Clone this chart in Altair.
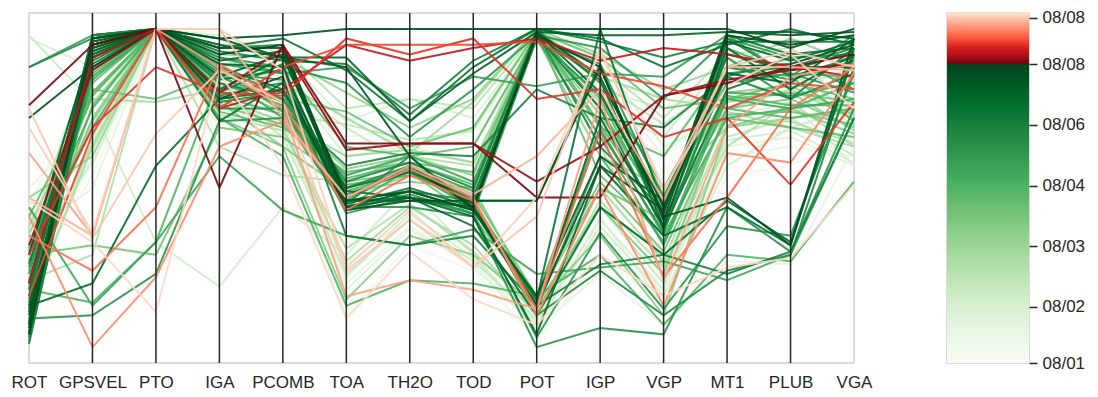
import altair as alt
import pandas as pd
import numpy as np

axes = ["ROT", "GPSVEL", "PTO", "IGA", "PCOMB", "TOA", "TH2O", "TOD",
        "POT", "IGP", "VGP", "MT1", "PLUB", "VGA"]

# position of each record on the colour bar (0 = 08/01 ... 1 = latest 08/08)
green_t = [0.84, 0.80, 0.77, 0.74, 0.82, 0.70, 0.66, 0.62, 0.58, 0.55, 0.79, 0.72,
           0.68, 0.64, 0.48, 0.45, 0.40, 0.52,
           0.83, 0.78, 0.73, 0.60, 0.35, 0.25, 0.15, 0.57, 0.67, 0.44, 0.31,
           0.30, 0.22, 0.12, 0.38, 0.50, 0.08, 0.18, 0.55, 0.04, 0.10,
           0.62, 0.75, 0.50, 0.42, 0.28, 0.65, 0.20, 0.35, 0.80, 0.47, 0.14, 0.06,
           0.76, 0.71, 0.63, 0.59, 0.54, 0.49, 0.43, 0.37, 0.33, 0.27, 0.24, 0.17,
           0.69, 0.61, 0.09, 0.02]

green_vals = [
    [4, 97, 100, 92, 95, 47, 57, 44, 98, 88, 40, 98, 95, 98],
    [7, 94, 100, 85, 92, 46, 49, 43, 99, 85, 44, 88, 89, 95],
    [13, 92, 100, 89, 88, 44, 47, 44, 13, 72, 38, 94, 81, 92],
    [20, 95, 100, 81, 91, 49, 47, 41, 4, 57, 35, 44, 32, 94],
    [10, 91, 100, 78, 85, 43, 46, 46, 46, 88, 41, 47, 32, 97],
    [26, 89, 100, 88, 81, 50, 55, 47, 98, 75, 37, 81, 88, 88],
    [16, 98, 100, 83, 78, 52, 58, 50, 99, 63, 43, 97, 85, 91],
    [2, 88, 100, 75, 75, 45, 60, 44, 97, 89, 47, 91, 78, 86],
    [23, 94, 100, 91, 86, 47, 57, 49, 100, 83, 50, 85, 91, 81],
    [29, 85, 100, 86, 72, 54, 60, 52, 97, 66, 32, 78, 75, 78],
    [6, 96, 100, 94, 94, 44, 49, 43, 16, 60, 46, 86, 83, 97],
    [12, 93, 100, 71, 83, 46, 46, 44, 15, 100, 44, 98, 92, 94],
    [1, 91, 100, 80, 89, 35, 32, 35, 13, 26, 29, 23, 30, 72],
    [15, 98, 100, 77, 80, 50, 57, 46, 10, 24, 10, 24, 29, 88],
    [9, 86, 100, 85, 77, 51, 54, 47, 98, 78, 40, 75, 72, 75],
    [21, 83, 100, 74, 69, 55, 58, 55, 99, 54, 35, 72, 69, 66],
    [24, 80, 100, 72, 63, 49, 52, 50, 13, 44, 23, 75, 78, 69],
    [30, 75, 100, 88, 74, 44, 56, 43, 100, 75, 43, 94, 86, 85],
    [72, 88, 100, 97, 98, 100, 100, 100, 100, 100, 100, 100, 94, 100],
    [4, 97, 100, 95, 91, 91, 71, 86, 99, 98, 98, 99, 99, 97],
    [7, 95, 100, 94, 97, 87, 71, 88, 100, 97, 88, 95, 100, 95],
    [20, 94, 100, 91, 88, 83, 66, 81, 98, 94, 78, 97, 91, 92],
    [29, 91, 100, 92, 91, 80, 69, 78, 100, 92, 81, 88, 97, 89],
    [35, 92, 100, 95, 94, 75, 78, 75, 99, 88, 72, 92, 94, 81],
    [97, 88, 100, 98, 92, 71, 78, 72, 98, 81, 75, 81, 88, 69],
    [88, 98, 100, 89, 86, 88, 75, 85, 82, 86, 85, 98, 85, 98],
    [16, 98, 100, 88, 75, 57, 61, 60, 81, 72, 69, 85, 78, 94],
    [32, 81, 78, 86, 78, 74, 63, 69, 99, 91, 75, 78, 83, 78],
    [38, 78, 77, 81, 83, 72, 61, 77, 100, 85, 78, 75, 81, 72],
    [13, 63, 100, 78, 69, 27, 44, 32, 10, 50, 27, 74, 69, 63],
    [10, 66, 100, 81, 66, 23, 40, 27, 9, 44, 20, 66, 72, 60],
    [18, 60, 100, 75, 72, 18, 37, 26, 6, 41, 13, 63, 66, 57],
    [23, 72, 100, 77, 63, 15, 35, 29, 13, 35, 10, 69, 75, 67],
    [27, 69, 100, 72, 60, 13, 21, 20, 16, 29, 7, 29, 27, 52],
    [32, 57, 100, 69, 67, 26, 41, 30, 4, 47, 16, 60, 63, 60],
    [26, 75, 33, 19, 44, 29, 50, 29, 7, 38, 16, 57, 69, 75],
    [44, 13, 33, 60, 43, 35, 32, 37, 23, 25, 27, 21, 29, 72],
    [20, 54, 100, 66, 61, 10, 32, 24, 2, 29, 13, 54, 57, 66],
    [35, 50, 100, 83, 75, 20, 38, 25, 6, 23, 7, 27, 26, 63],
    [9, 10, 23, 71, 72, 44, 44, 41, 0, 6, 4, 44, 30, 75],
    [13, 20, 57, 78, 81, 46, 47, 38, 10, 44, 29, 46, 33, 92],
    [18, 14, 33, 85, 77, 49, 55, 44, 16, 69, 35, 72, 75, 83],
    [29, 32, 29, 69, 66, 52, 55, 41, 15, 50, 40, 78, 80, 77],
    [21, 29, 100, 63, 54, 52, 60, 57, 100, 63, 26, 63, 77, 63],
    [88, 97, 100, 94, 95, 46, 49, 46, 46, 89, 37, 86, 88, 94],
    [98, 77, 100, 91, 83, 69, 57, 52, 98, 75, 66, 91, 81, 88],
    [47, 60, 100, 80, 78, 47, 54, 47, 97, 60, 50, 69, 72, 74],
    [29, 95, 100, 97, 91, 88, 60, 43, 13, 57, 43, 99, 98, 99],
    [41, 80, 100, 75, 88, 63, 60, 63, 98, 69, 60, 88, 85, 71],
    [35, 85, 100, 88, 85, 60, 63, 58, 100, 91, 63, 72, 77, 57],
    [44, 88, 100, 94, 88, 66, 69, 66, 99, 94, 69, 78, 91, 78],
    [8, 93, 100, 90, 93, 47, 56, 45, 99, 80, 42, 96, 90, 96],
    [18, 90, 100, 84, 87, 45, 50, 44, 98, 84, 38, 92, 87, 93],
    [3, 95, 100, 79, 83, 48, 55, 46, 14, 68, 36, 88, 84, 90],
    [25, 87, 100, 87, 80, 42, 47, 42, 97, 79, 45, 83, 86, 80],
    [14, 84, 100, 83, 76, 46, 57, 45, 12, 60, 33, 80, 79, 83],
    [31, 79, 100, 79, 73, 53, 58, 51, 99, 70, 40, 79, 76, 76],
    [19, 76, 100, 76, 70, 50, 56, 48, 16, 52, 30, 73, 74, 70],
    [27, 71, 100, 82, 74, 56, 60, 54, 98, 73, 44, 80, 82, 73],
    [36, 68, 100, 78, 71, 60, 62, 58, 96, 77, 48, 77, 80, 68],
    [22, 64, 100, 73, 68, 31, 45, 30, 11, 46, 25, 70, 71, 64],
    [40, 62, 100, 80, 73, 70, 65, 68, 99, 83, 70, 84, 86, 74],
    [33, 58, 100, 76, 70, 22, 42, 28, 8, 40, 18, 65, 68, 58],
    [11, 96, 100, 93, 90, 89, 73, 90, 100, 96, 91, 96, 96, 96],
    [5, 92, 100, 86, 84, 43, 48, 42, 3, 36, 12, 38, 35, 86],
    [50, 70, 100, 85, 80, 64, 66, 64, 97, 85, 60, 80, 76, 64],
    [42, 65, 100, 82, 79, 55, 58, 54, 96, 80, 55, 75, 72, 62],
]

red_t = [0.86, 0.87, 0.89, 0.91, 0.92, 0.94, 0.955, 0.965, 0.975, 0.985, 0.995, 0.99]
red_vals = [
    [76, 95, 100, 50, 95, 64, 64, 64, 47, 47, 79, 83, 88, 92],
    [32, 87, 100, 80, 94, 62, 64, 64, 52, 63, 79, 84, 87, 89],
    [20, 91, 100, 75, 81, 95, 90, 94, 97, 90, 94, 92, 88, 85],
    [29, 69, 88, 80, 79, 97, 92, 97, 78, 81, 66, 72, 51, 77],
    [16, 67, 100, 75, 88, 95, 95, 95, 96, 86, 82, 75, 83, 81],
    [35, 24, 44, 89, 77, 43, 54, 46, 12, 68, 22, 47, 75, 88],
    [41, 0, 22, 63, 71, 47, 56, 47, 10, 50, 13, 61, 58, 86],
    [61, 35, 100, 88, 75, 16, 21, 18, 12, 78, 21, 69, 85, 89],
    [47, 35, 100, 100, 72, 47, 57, 48, 60, 81, 46, 88, 88, 87],
    [75, 34, 67, 87, 77, 24, 40, 25, 41, 94, 49, 88, 93, 88],
    [46, 33, 11, 86, 57, 9, 30, 15, 7, 29, 16, 25, 28, 51],
    [69, 36, 100, 100, 87, 25, 43, 25, 47, 93, 50, 82, 92, 75],
]

tick_pos = [0.0, 0.161, 0.333, 0.506, 0.681, 0.853, 0.986]
tick_lab = ["08/01", "08/02", "08/03", "08/04", "08/06", "08/08", "08/08"]

greens = ["#f7fcf5", "#e5f5e0", "#c7e9c0", "#a1d99b", "#74c476",
          "#41ab5d", "#238b45", "#006d2c", "#00441b"]
reds = ["#67000d", "#a50f15", "#cb181d", "#ef3b2c", "#fb6a4a",
        "#fc9272", "#fcbba1", "#fee0d2"]

# ---- build long table ----
records = sorted(zip(green_t + red_t, green_vals + red_vals), key=lambda r: r[0])
rows = []
for i, (t, vals) in enumerate(records):
    for j, (a, v) in enumerate(zip(axes, vals)):
        rows.append({"id": i, "t": t, "axis": a, "ai": j, "value": v})
df = pd.DataFrame(rows)

stops = [0.853 * i / 8 for i in range(9)] + [0.8531 + (1 - 0.8531) * i / 7 for i in range(8)]
cscale = alt.Scale(domain=stops, range=greens + reds, interpolate="rgb")

FONT = "Liberation Sans"
TXT = "#262626"
H = 350

xscale = alt.Scale(domain=axes, type="point", padding=0)

lines = alt.Chart(df).mark_line(strokeWidth=2, opacity=0.9).encode(
    x=alt.X("axis:N", scale=xscale, sort=axes,
            axis=alt.Axis(title=None, labelAngle=0, ticks=False, domain=False, grid=False,
                          labelFontSize=17, labelColor=TXT, labelPadding=11,
                          labelFont=FONT, labelOverlap=False)),
    y=alt.Y("value:Q", scale=alt.Scale(domain=[-5, 105], nice=False, zero=False), axis=None),
    detail="id:N",
    order="ai:Q",
    color=alt.Color("t:Q", scale=cscale, legend=None),
)

rules = alt.Chart(pd.DataFrame({"axis": axes[1:-1]})).mark_rule(
    color=TXT, strokeWidth=1.5
).encode(x=alt.X("axis:N", scale=xscale, sort=axes))

main = (lines + rules).properties(width=825, height=H)

n = 350
lo = np.arange(n) / n
cb = pd.DataFrame({"lo": lo, "hi": lo + 1.5 / n, "mid": lo + 0.5 / n})

label_expr = " : ".join(
    f"datum.value < {((tick_pos[k] + tick_pos[k + 1]) / 2):.3f} ? '{tick_lab[k]}'"
    for k in range(len(tick_pos) - 1)
) + f" : '{tick_lab[-1]}'"

colorbar = alt.Chart(cb).mark_rect().encode(
    x=alt.value(0),
    x2=alt.value(82),
    y=alt.Y("lo:Q", scale=alt.Scale(domain=[0, 1], nice=False, zero=False),
            axis=alt.Axis(orient="right", values=tick_pos, labelExpr=label_expr, title=None,
                          grid=False, domain=False, tickSize=8, tickColor=TXT, tickWidth=1.5,
                          labelFontSize=17, labelPadding=5, labelColor=TXT, labelFont=FONT,
                          labelFlush=False, labelOverlap=False, labelBound=False)),
    y2="hi:Q",
    color=alt.Color("mid:Q", scale=cscale, legend=None),
).properties(width=82, height=H)

chart = alt.hconcat(main, colorbar, spacing=73).properties(
    padding={"left": 2, "top": 0, "right": 2, "bottom": 0}
).configure_view(stroke="#d0d0d0", strokeWidth=1.5).configure_concat(spacing=73)

chart.save("out.html", embed_options={"renderer": "svg", "actions": False})
